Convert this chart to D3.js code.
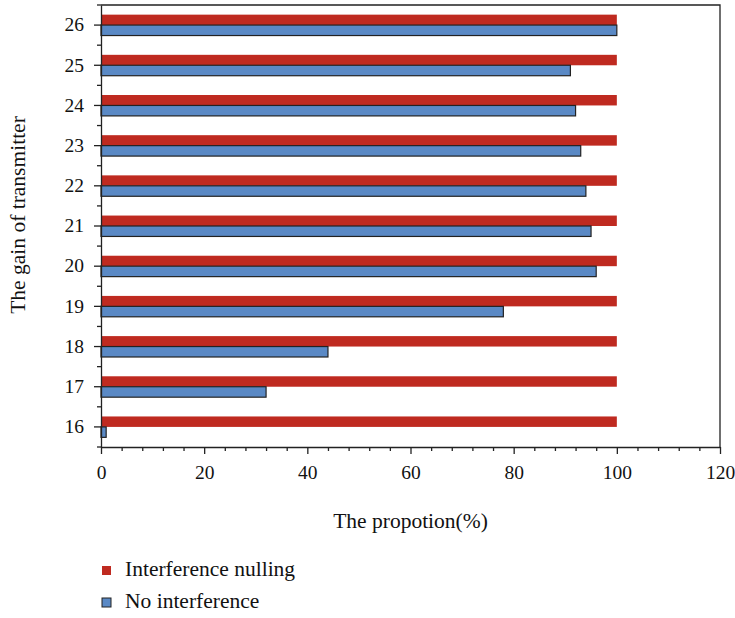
<!DOCTYPE html>
<html>
<head>
<meta charset="utf-8">
<script src="https://cdn.jsdelivr.net/npm/d3@7"></script>
<style>
  body { margin: 0; background: #fff; }
  svg text { font-family: "Liberation Serif", "DejaVu Serif", serif; fill: #111; }
</style>
</head>
<body>
<div id="chart"></div>
<script>
// Data
const gains = ['16', '17', '18', '19', '20', '21', '22', '23', '24', '25', '26'];
const nulling = [100, 100, 100, 100, 100, 100, 100, 100, 100, 100, 100];
const noInterference = [1, 32, 44, 78, 96, 95, 94, 93, 92, 91, 100];
const xTicks = [0, 20, 40, 60, 80, 100, 120];
const seriesNames = ['Interference nulling', 'No interference'];
const seriesColors = ['#bf2a20', '#5a89c5'];

const width = 735, height = 618;
const margin = { top: 5, right: 15, bottom: 171, left: 101 };
const innerW = width - margin.left - margin.right;
const innerH = height - margin.top - margin.bottom;

const svg = d3.select('#chart')
  .append('svg')
  .attr('width', width)
  .attr('height', height);

const g = svg.append('g')
  .attr('transform', `translate(${margin.left},${margin.top})`);

// Scales
const x = d3.scaleLinear().domain([0, 120]).range([0, innerW]);
const y = d3.scaleBand().domain(gains).range([innerH, 0]);
const barH = y.bandwidth() * 0.26;

// Bars
const rows = gains.map((k, i) => ({ k, red: nulling[i], blue: noInterference[i] }));

g.selectAll('rect.red')
  .data(rows)
  .enter()
  .append('rect')
  .attr('class', 'red')
  .attr('x', 0)
  .attr('y', d => y(d.k) + y.bandwidth() / 2 - barH)
  .attr('width', d => x(d.red))
  .attr('height', barH)
  .attr('fill', seriesColors[0]);

g.selectAll('rect.blue')
  .data(rows)
  .enter()
  .append('rect')
  .attr('class', 'blue')
  .attr('x', 0)
  .attr('y', d => y(d.k) + y.bandwidth() / 2)
  .attr('width', d => x(d.blue))
  .attr('height', barH)
  .attr('fill', seriesColors[1])
  .attr('stroke', '#222')
  .attr('stroke-width', 1.2);

// Frame (top and right)
g.append('path')
  .attr('d', `M0,0H${innerW}V${innerH}`)
  .attr('fill', 'none')
  .attr('stroke', '#222')
  .attr('stroke-width', 1.3);

// X axis: minor then major
const xMinor = d3.range(0, 121, 4).filter(v => v % 20 !== 0);
g.append('g')
  .attr('transform', `translate(0,${innerH})`)
  .call(d3.axisBottom(x).tickValues(xMinor).tickSize(4).tickFormat(''))
  .call(a => a.select('.domain').remove())
  .selectAll('line').attr('stroke', '#222').attr('stroke-width', 1.3);

const xAxis = g.append('g')
  .attr('transform', `translate(0,${innerH})`)
  .call(d3.axisBottom(x).tickValues(xTicks).tickSize(7).tickPadding(11).tickSizeOuter(0));
xAxis.selectAll('text').attr('font-size', 19.5);
xAxis.selectAll('line, path').attr('stroke', '#222').attr('stroke-width', 1.3);

// Y axis: minor ticks at band edges, majors at band centres
const yEdges = gains.map(k => y(k)).concat([innerH]);
g.append('g')
  .selectAll('line')
  .data(yEdges)
  .enter()
  .append('line')
  .attr('x1', -4)
  .attr('x2', 0)
  .attr('y1', d => d)
  .attr('y2', d => d)
  .attr('stroke', '#222')
  .attr('stroke-width', 1.3);

const yAxis = g.append('g')
  .call(d3.axisLeft(y).tickSize(7).tickPadding(10).tickSizeOuter(0));
yAxis.selectAll('text').attr('font-size', 19.5);
yAxis.selectAll('line, path').attr('stroke', '#222').attr('stroke-width', 1.3);

// Axis titles
svg.append('text')
  .attr('x', margin.left + innerW / 2)
  .attr('y', 528)
  .attr('text-anchor', 'middle')
  .attr('font-size', 21.5)
  .text('The propotion(%)');

svg.append('text')
  .attr('transform', `translate(25,${margin.top + innerH / 2 - 11}) rotate(-90)`)
  .attr('text-anchor', 'middle')
  .attr('font-size', 21.5)
  .text('The gain of transmitter');

// Legend
const legend = svg.append('g')
  .selectAll('g')
  .data(seriesNames)
  .enter()
  .append('g')
  .attr('transform', (d, i) => `translate(102,${566 + i * 32})`);

legend.append('rect')
  .attr('width', 9)
  .attr('height', 9)
  .attr('fill', (d, i) => seriesColors[i])
  .attr('stroke', (d, i) => i === 1 ? '#222' : 'none')
  .attr('stroke-width', 1);

legend.append('text')
  .attr('x', 23)
  .attr('y', 10)
  .attr('font-size', 21.5)
  .text(d => d);
</script>
</body>
</html>
